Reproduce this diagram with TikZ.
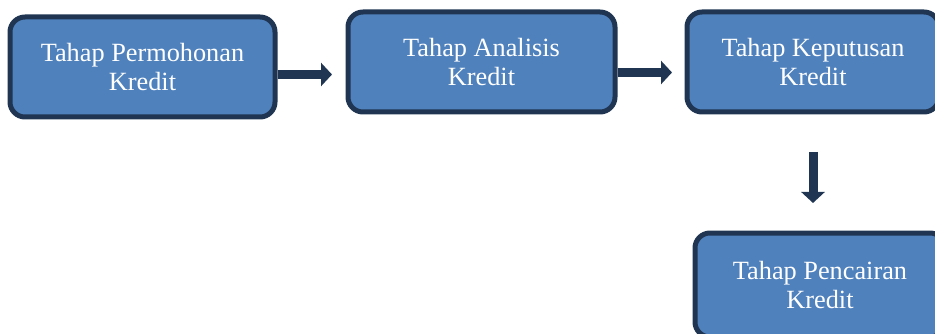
\documentclass[tikz,border=0pt]{standalone}
\usepackage{fontspec}
\setmainfont{Liberation Serif}
\usetikzlibrary{arrows.meta}
\definecolor{boxblue}{HTML}{4F81BD}
\definecolor{boxnavy}{HTML}{1F3552}
\begin{document}
\begin{tikzpicture}[
   x=1pt, y=-1pt,
   stagebox/.style={align=center, fill=boxblue, draw=boxnavy, line width=5pt, rounded corners=15pt, inner sep=0, minimum height=100pt, text=white, font=\fontsize{26.3}{29}\selectfont},
   blockarrow/.style={draw=boxnavy, line width=9pt, -{Triangle[width=23pt,length=11pt]}}
  ]
  \useasboundingbox (0,0) rectangle (935,334);
  \begin{scope}
  \clip (0,0) rectangle (935,334);
  \node[stagebox, minimum width=265pt] (permohonan) at (142.5,67) {Tahap Permohonan\\Kredit};
  \node[stagebox, minimum width=267pt] (analisis) at (481.5,62) {Tahap Analisis\\Kredit};
  \node[stagebox, minimum width=252pt] (keputusan) at (813,62) {Tahap Keputusan\\Kredit};
  \node[stagebox, minimum width=250pt, minimum height=104pt] (pencairan) at (820,285) {Tahap Pencairan\\Kredit};
  \end{scope}
  % arrows between stages
  \coordinate (tip1) at (332,74.5);
  \coordinate (tip2) at (672,72.5);
  \coordinate (top3) at (813,152);
  \coordinate (tip3) at (813,203);
  \draw[blockarrow] (permohonan.east |- tip1) -- (tip1);
  \draw[blockarrow] (analisis.east |- tip2) -- (tip2);
  \draw[blockarrow] (top3) -- (tip3);
\end{tikzpicture}
\end{document}
